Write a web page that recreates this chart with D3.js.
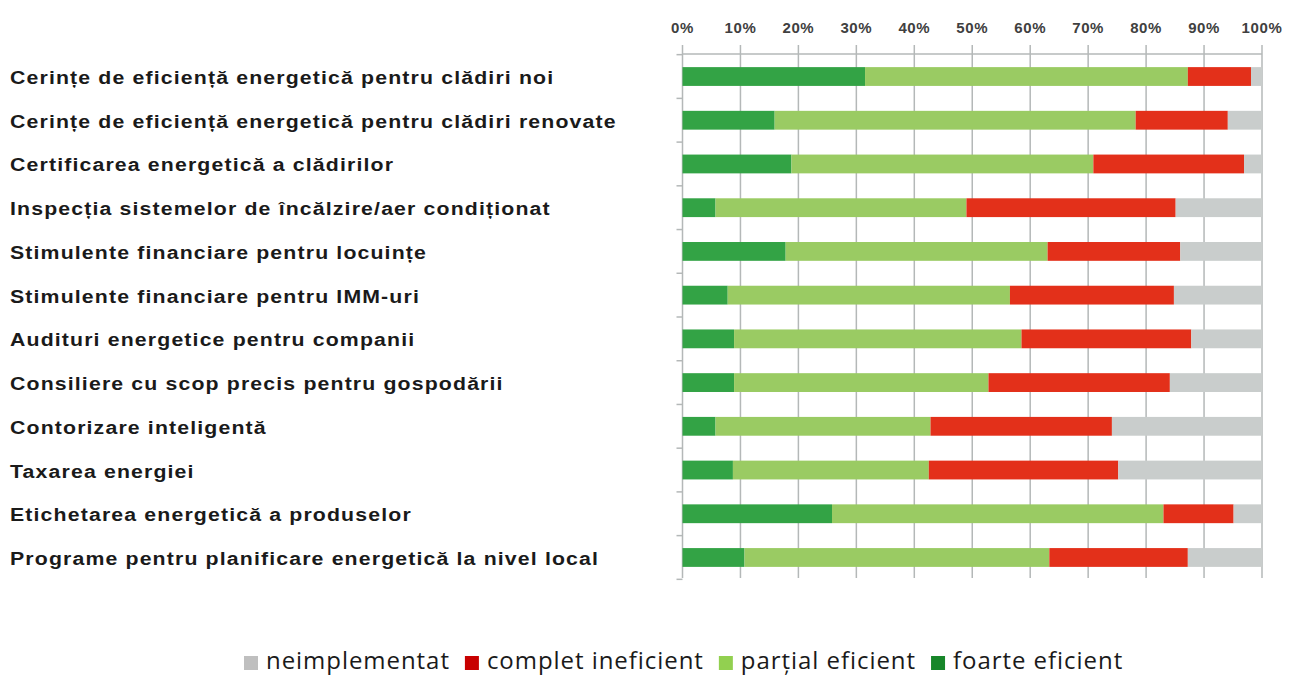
<!DOCTYPE html>
<html lang="ro">
<head>
<meta charset="UTF-8">
<title></title>
<script src="https://cdn.jsdelivr.net/npm/d3@7"></script>
<style>
  body { margin: 0; background: #fff; }
  .cat { font-family: "Liberation Sans", Arial, sans-serif; font-weight: bold; font-size: 18.5px; fill: #1a1a1a; letter-spacing: 1px; }
  .pct { font-family: "Liberation Sans", Arial, sans-serif; font-weight: bold; font-size: 15px; fill: #404040; letter-spacing: 0.6px; }
  .leg { font-family: "Open Sans", sans-serif; font-size: 24px; fill: #1a1a1a; letter-spacing: 0.95px; }
</style>
</head>
<body>
<svg id="chart" width="1289" height="675"></svg>
<script>
var categories = [
  "Cerințe de eficiență energetică pentru clădiri noi",
  "Cerințe de eficiență energetică pentru clădiri renovate",
  "Certificarea energetică a clădirilor",
  "Inspecția sistemelor de încălzire/aer condiționat",
  "Stimulente financiare pentru locuințe",
  "Stimulente financiare pentru IMM-uri",
  "Audituri energetice pentru companii",
  "Consiliere cu scop precis pentru gospodării",
  "Contorizare inteligentă",
  "Taxarea energiei",
  "Etichetarea energetică a produselor",
  "Programe pentru planificare energetică la nivel local"
];
var foarte  = [31.5, 15.9, 18.8, 5.7, 17.8, 7.8, 8.9, 8.9, 5.7, 8.7, 25.8, 10.7];
var partial = [55.7, 62.3, 52.1, 43.3, 45.2, 48.7, 49.6, 43.9, 37.1, 33.8, 57.2, 52.6];
var complet = [10.9, 15.9, 26.0, 36.1, 22.9, 28.3, 29.3, 31.3, 31.3, 32.7, 12.1, 23.9];
var neimpl  = [1.9, 5.9, 3.1, 14.9, 14.1, 15.2, 12.2, 15.9, 25.9, 24.8, 4.9, 12.8];
var xTicks = [0, 10, 20, 30, 40, 50, 60, 70, 80, 90, 100];

var seriesKeys = ["foarte", "partial", "complet", "neimpl"];
var barColor = {foarte: "#33a345", partial: "#9acb63", complet: "#e3301a", neimpl: "#c9cdcc"};
var legendItems = [
  {key: "neimpl", label: "neimplementat", color: "#bfbfbf"},
  {key: "complet", label: "complet ineficient", color: "#c80000"},
  {key: "partial", label: "parţial eficient", color: "#92d050"},
  {key: "foarte", label: "foarte eficient", color: "#17862a"}
];

var rows = categories.map(function(c, i) {
  return {cat: c, foarte: foarte[i], partial: partial[i], complet: complet[i], neimpl: neimpl[i]};
});

var svg = d3.select("#chart");
var plotLeft = 682.5, plotRight = 1262, plotTop = 54, plotBottom = 580;

var x = d3.scaleLinear().domain([0, 100]).range([plotLeft, plotRight]);
var y = d3.scaleBand().domain(categories).range([plotTop, plotBottom]).paddingInner(0.57).paddingOuter(0.3);

// gridlines + top ticks
svg.append("g").selectAll("line").data(xTicks).enter().append("line")
  .attr("x1", function(d) { return x(d); }).attr("x2", function(d) { return x(d); })
  .attr("y1", plotTop - 9).attr("y2", plotBottom - 2)
  .attr("stroke", "#b4b8b8").attr("stroke-width", 1.5);

svg.append("line").attr("x1", plotLeft).attr("x2", plotRight).attr("y1", plotTop).attr("y2", plotTop)
  .attr("stroke", "#b4b8b8").attr("stroke-width", 1.5);

// category axis ticks at band boundaries
var step = y.step();
var off = y.paddingOuter() * step - y.paddingInner() * step / 2;
svg.append("g").selectAll("line").data(d3.range(categories.length + 1)).enter().append("line")
  .attr("x1", plotLeft - 6).attr("x2", plotLeft)
  .attr("y1", function(i) { return plotTop + off + i * step; }).attr("y2", function(i) { return plotTop + off + i * step; })
  .attr("stroke", "#b4b8b8").attr("stroke-width", 1.5);

svg.append("g").selectAll("text").data(xTicks).enter().append("text")
  .attr("class", "pct")
  .attr("x", function(d) { return x(d); }).attr("y", 33)
  .attr("text-anchor", "middle")
  .text(function(d) { return d + "%"; });

// stacked bars
var stacked = d3.stack().keys(seriesKeys)(rows);
svg.append("g").selectAll("g").data(stacked).enter().append("g")
  .attr("fill", function(s) { return barColor[s.key]; })
  .selectAll("rect").data(function(s) { return s; }).enter().append("rect")
  .attr("x", function(d) { return x(d[0]); })
  .attr("width", function(d) { return x(d[1]) - x(d[0]); })
  .attr("y", function(d) { return y(d.data.cat); })
  .attr("height", y.bandwidth());

// category labels (slightly widened like the original)
svg.append("g").selectAll("text").data(categories).enter().append("text")
  .attr("class", "cat")
  .attr("transform", function(d) { return "translate(10," + (y(d) + y.bandwidth() / 2 + 7.5) + ") scale(1.15,1)"; })
  .text(function(d) { return d; });

// legend
var leg = svg.append("g");
var lx = 244;
legendItems.forEach(function(it) {
  leg.append("rect").attr("x", lx).attr("y", 656).attr("width", 14).attr("height", 14).attr("fill", it.color);
  var t = leg.append("text").attr("class", "leg").attr("x", lx + 22).attr("y", 668.5).text(it.label);
  lx += 22 + t.node().getComputedTextLength() + 15;
});
</script>
</body>
</html>
